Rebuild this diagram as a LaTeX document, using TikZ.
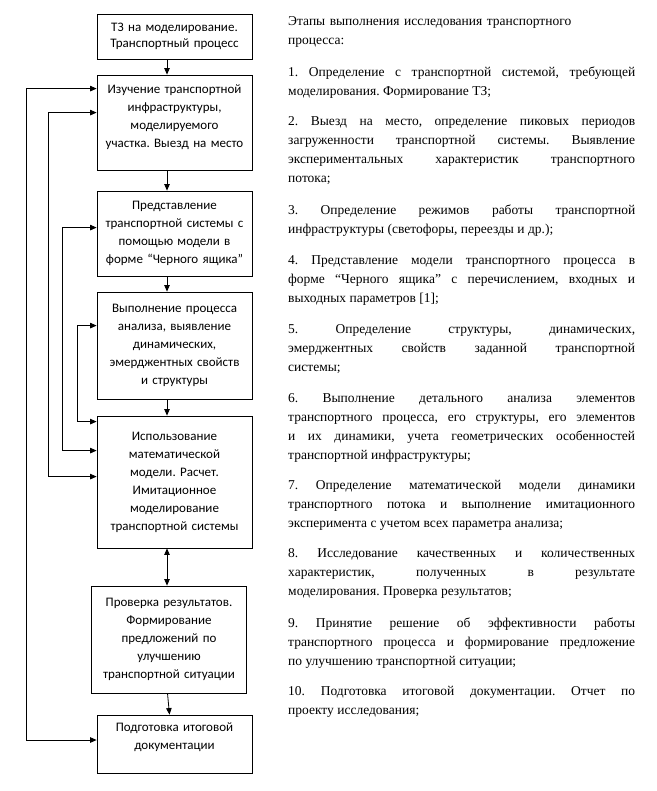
\documentclass[tikz,border=0pt]{standalone}
\usepackage{fontspec}
\setmainfont{Liberation Serif}
\newfontfamily\calibrifont{Carlito}
\usetikzlibrary{arrows.meta}
\tolerance=9999
\hbadness=10000
\emergencystretch=10pt
\frenchspacing

\begin{document}
\begin{tikzpicture}[
			x=1pt, y=-1pt,
			stagebox/.style={
				draw=black,
				line width=0.8pt,
				fill=white,
				align=center,
				text width=147pt,
				inner xsep=4pt,
				inner ysep=3pt,
				font=\calibrifont\fontsize{13}{18}\selectfont
			},
			flowarrow/.style={
				->,
				>={Triangle[length=6.5pt,width=5.5pt]},
				draw=black,
				line width=0.8pt
			},
			backarrow/.style={flowarrow,<->},
			stagetext/.style={
				anchor=base west,
				text width=347pt,
				inner sep=0pt,
				align=justify,
				font=\fontsize{13.5}{18.9}\selectfont
			}
			]
			
			\useasboundingbox (0,0) rectangle (656,791);
			
			\node[stagebox,minimum height=45pt,
			font=\calibrifont\fontsize{13}{16}\selectfont] (tz) at (174.5,36.5) {
				ТЗ на моделирование.\\
				Транспортный процесс
			};
			
			\node[stagebox,minimum height=95pt] (survey) at (174.5,122.5) {
				Изучение транспортной\\
				инфраструктуры,\\
				моделируемого\\
				участка. Выезд на место\rule[-12.5pt]{0pt}{12.5pt}
			};
			
			\node[stagebox,minimum height=85pt] (blackbox) at (174.5,233.5) {
				Представление\\
				транспортной системы с\\
				помощью модели в\\
				форме “Черного ящика”
			};
			
			\node[stagebox,minimum height=107pt] (analysis) at (174.5,345.5) {
				Выполнение процесса\\
				анализа, выявление\\
				динамических,\\
				эмерджентных свойств\\
				и структуры
			};
			
			\node[stagebox,minimum height=132pt] (model) at (174.5,482) {
				Использование\\
				математической\\
				модели. Расчет.\\
				Имитационное\\
				моделирование\\
				транспортной системы
			};
			
			\node[stagebox,minimum height=107pt] (check) at (169,639.5) {
				Проверка результатов.\\
				Формирование\\
				предложений по\\
				улучшению\\
				транспортной ситуации
			};
			
			\node[stagebox,minimum height=58pt] (report) at (174.5,744) {
				Подготовка итоговой\\
				документации\rule[-15.5pt]{0pt}{15.5pt}
			};
			
			\draw[flowarrow] ([xshift=-7.5pt]tz.south) -- ([xshift=-7.5pt]survey.north);
			\draw[flowarrow] ([xshift=-7.5pt]survey.south) -- ([xshift=-7.5pt]blackbox.north);
			\draw[flowarrow] ([xshift=-7.5pt]blackbox.south) -- ([xshift=-7.5pt]analysis.north);
			\draw[flowarrow] ([xshift=-7.5pt]analysis.south) -- ([xshift=-7.5pt]model.north);
			\draw[backarrow] ([xshift=-7.5pt]model.south) -- ([xshift=-2pt]check.north);
			\draw[flowarrow] ([xshift=-1.5pt]check.south) -- ([xshift=-5pt]report.north);
			
			% return lines on the left
			\draw[backarrow] ([yshift=-14pt]survey.north west) -- ++(-70,0) |- ([yshift=4pt]report.west);
			\draw[backarrow] ([yshift=-38pt]survey.north west) -- ++(-48,0) |- ([yshift=-61pt]model.north west);
			\draw[backarrow] ([yshift=-37pt]blackbox.north west) -- ++(-34,0) |- ([yshift=-35pt]model.north west);
			\draw[backarrow] ([yshift=-34pt]analysis.north west) -- ++(-19,0) |- ([yshift=-6pt]model.north west);
			
			% list of stages
			\node[stagetext,align=left] (title) at (288,25.5) {
				Этапы выполнения исследования транспортного\\
				процесса:
			};
			\node[stagetext] (st1) at (288,76.5) {
				1. Определение с транспортной системой, требующей\linebreak
				моделирования. Формирование ТЗ;
			};
			\node[stagetext] (st2) at (288,125.5) {
				2. Выезд на место, определение пиковых периодов\linebreak
				загруженности транспортной системы. Выявление\linebreak
				экспериментальных характеристик транспортного\linebreak
				потока;
			};
			\node[stagetext] (st3) at (288,214.5) {
				3. Определение режимов работы транспортной\linebreak
				инфраструктуры (светофоры, переезды и др.);
			};
			\node[stagetext] (st4) at (288,264.5) {
				4. Представление модели транспортного процесса в\linebreak
				форме “Черного ящика” с перечислением, входных и\linebreak
				выходных параметров [1];
			};
			\node[stagetext] (st5) at (288,333.5) {
				5. Определение структуры, динамических,\linebreak
				эмерджентных свойств заданной транспортной\linebreak
				системы;
			};
			\node[stagetext] (st6) at (288,402.5) {
				6. Выполнение детального анализа элементов\linebreak
				транспортного процесса, его структуры, его элементов\linebreak
				и их динамики, учета геометрических особенностей\linebreak
				транспортной инфраструктуры;
			};
			\node[stagetext] (st7) at (288,489.5) {
				7. Определение математической модели динамики\linebreak
				транспортного потока и выполнение имитационного\linebreak
				эксперимента с учетом всех параметра анализа;
			};
			\node[stagetext] (st8) at (288,557.5) {
				8. Исследование качественных и количественных\linebreak
				характеристик, полученных в результате\linebreak
				моделирования. Проверка результатов;
			};
			\node[stagetext] (st9) at (288,627.5) {
				9. Принятие решение об эффективности работы\linebreak
				транспортного процесса и формирование предложение\linebreak
				по улучшению транспортной ситуации;
			};
			\node[stagetext] (st10) at (288,695.5) {
				10. Подготовка итоговой документации. Отчет по\linebreak
				проекту исследования;
			};
			
		\end{tikzpicture}
\end{document}
